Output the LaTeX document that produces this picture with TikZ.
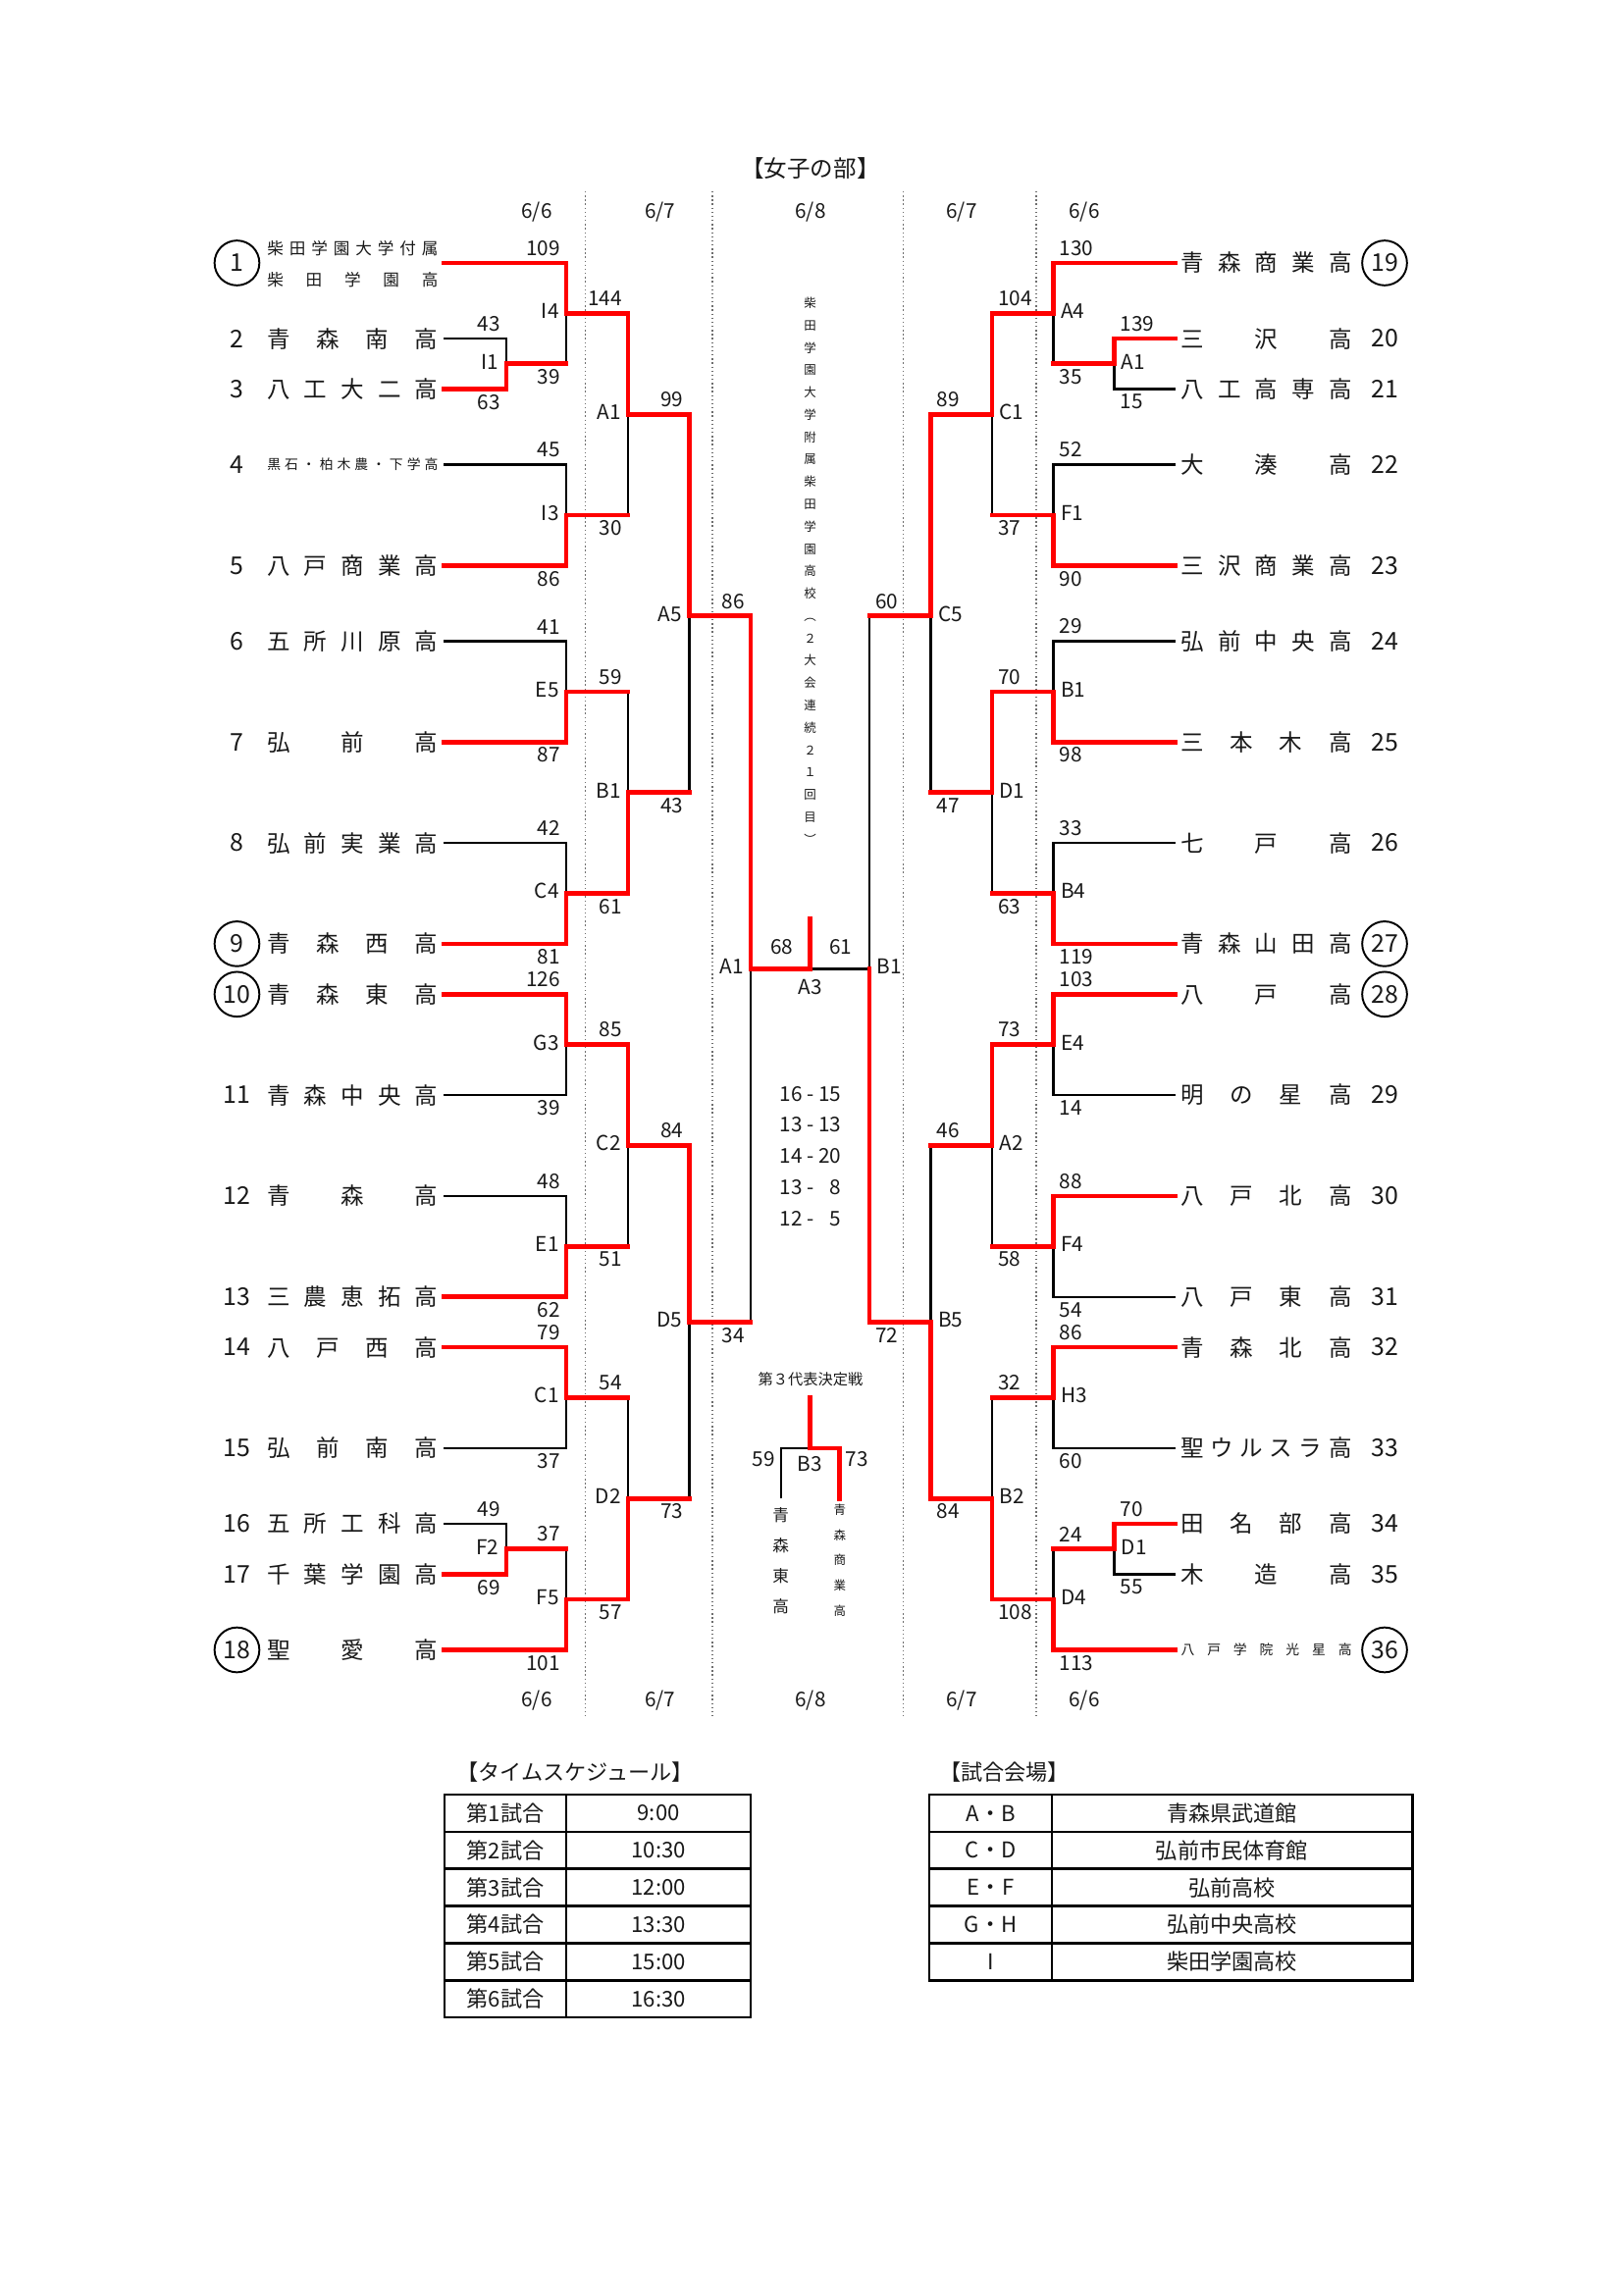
\documentclass[tikz,border=0pt]{standalone}
\usepackage{fontspec}
\setmainfont{Noto Sans CJK JP}
\definecolor{hit}{RGB}{255,0,0}
\definecolor{ink}{RGB}{25,25,25}
\definecolor{rul}{RGB}{110,110,110}
\newcommand{\spreadname}[2][2.21cm]{\makebox[#1][s]{\spaceskip=0pt plus 1fil\relax #2}}

\begin{document}
\begin{tikzpicture}[
  x=1cm, y=-0.6526cm, ink,
  every node/.style={inner sep=0pt},
  loss/.style={line width=0.8pt, black},
  wonl/.style={line width=1.7pt, hit, line cap=rect},
  guide/.style={rul, line width=0.5pt, densely dotted},
  tm/.style={font=\fontsize{8.5}{10}\selectfont},
  tmtwo/.style={font=\fontsize{6}{7}\selectfont},
  tmsmall/.style={font=\fontsize{5}{6}\selectfont},
  num/.style={font=\fontsize{9}{10}\selectfont},
  seed/.style={num, circle, draw=black, line width=0.7pt, minimum size=0.58cm},
  pts/.style={font=\fontsize{7.5}{9}\selectfont},
  sla/.style={pts, anchor=south east, xshift=-2pt, yshift=2.5pt},
  slb/.style={pts, anchor=north east, xshift=-2pt, yshift=-1.8pt},
  sra/.style={pts, anchor=south west, xshift=2pt, yshift=2.5pt},
  srb/.style={pts, anchor=north west, xshift=2pt, yshift=-1.8pt},
  gml/.style={pts, anchor=east, xshift=-2.5pt, yshift=0.8pt},
  gmr/.style={pts, anchor=west, xshift=2.5pt, yshift=0.8pt},
  day/.style={font=\fontsize{7.5}{9}\selectfont},
  tbl/.style={line width=0.9pt, black},
  tcell/.style={font=\fontsize{8}{9}\selectfont},
]
\useasboundingbox (0,-5.214) rectangle (21,40.292);

%% ---- day columns ----
\draw[guide] (7.573,-1.42) -- (7.573,28.87);
\draw[guide] (9.218,-1.42) -- (9.218,28.87);
\draw[guide] (11.687,-1.42) -- (11.687,28.87);
\draw[guide] (13.407,-1.42) -- (13.407,28.87);

\node[font=\fontsize{8.5}{10}\selectfont] (title) at (10.487,-1.87) {【女子の部】};
\node[day] (dt1) at (6.945,-1.01) {6/6};
\node[day] (dt2) at (8.540,-1.01) {6/7};
\node[day] (dt3) at (10.487,-1.01) {6/8};
\node[day] (dt4) at (12.443,-1.01) {6/7};
\node[day] (dt5) at (14.030,-1.01) {6/6};
\node[day] (db1) at (6.945,28.5) {6/6};
\node[day] (db2) at (8.540,28.5) {6/7};
\node[day] (db3) at (10.487,28.5) {6/8};
\node[day] (db4) at (12.443,28.5) {6/7};
\node[day] (db5) at (14.030,28.5) {6/6};

%% =========================================================
%% Left half --- teams 1-18
%% =========================================================
\node[seed] (kL1) at (3.066,0) {1};
\node[tmtwo, anchor=east] (tL1a) at (5.675,-0.29) {\spreadname{柴 田 学 園 大 学 付 属}};
\node[tmtwo, anchor=east] (tL1b) at (5.675,0.33) {\spreadname{柴 田 学 園 高}};
\node[num] (kL2) at (3.066,1.5) {2};
\node[tm, anchor=east] (tL2) at (5.675,1.5) {\spreadname{青 森 南 高}};
\node[num] (kL3) at (3.066,2.5) {3};
\node[tm, anchor=east] (tL3) at (5.675,2.5) {\spreadname{八 工 大 二 高}};
\node[num] (kL4) at (3.066,4) {4};
\node[tmsmall, anchor=east] (tL4) at (5.675,4) {\spreadname{黒 石 ・ 柏 木 農 ・ 下 学 高}};
\node[num] (kL5) at (3.066,6) {5};
\node[tm, anchor=east] (tL5) at (5.675,6) {\spreadname{八 戸 商 業 高}};
\node[num] (kL6) at (3.066,7.5) {6};
\node[tm, anchor=east] (tL6) at (5.675,7.5) {\spreadname{五 所 川 原 高}};
\node[num] (kL7) at (3.066,9.5) {7};
\node[tm, anchor=east] (tL7) at (5.675,9.5) {\spreadname{弘 前 高}};
\node[num] (kL8) at (3.066,11.5) {8};
\node[tm, anchor=east] (tL8) at (5.675,11.5) {\spreadname{弘 前 実 業 高}};
\node[seed] (kL9) at (3.066,13.5) {9};
\node[tm, anchor=east] (tL9) at (5.675,13.5) {\spreadname{青 森 西 高}};
\node[seed] (kL10) at (3.066,14.5) {10};
\node[tm, anchor=east] (tL10) at (5.675,14.5) {\spreadname{青 森 東 高}};
\node[num] (kL11) at (3.066,16.5) {11};
\node[tm, anchor=east] (tL11) at (5.675,16.5) {\spreadname{青 森 中 央 高}};
\node[num] (kL12) at (3.066,18.5) {12};
\node[tm, anchor=east] (tL12) at (5.675,18.5) {\spreadname{青 森 高}};
\node[num] (kL13) at (3.066,20.5) {13};
\node[tm, anchor=east] (tL13) at (5.675,20.5) {\spreadname{三 農 恵 拓 高}};
\node[num] (kL14) at (3.066,21.5) {14};
\node[tm, anchor=east] (tL14) at (5.675,21.5) {\spreadname{八 戸 西 高}};
\node[num] (kL15) at (3.066,23.5) {15};
\node[tm, anchor=east] (tL15) at (5.675,23.5) {\spreadname{弘 前 南 高}};
\node[num] (kL16) at (3.066,25) {16};
\node[tm, anchor=east] (tL16) at (5.675,25) {\spreadname{五 所 工 科 高}};
\node[num] (kL17) at (3.066,26) {17};
\node[tm, anchor=east] (tL17) at (5.675,26) {\spreadname{千 葉 学 園 高}};
\node[seed] (kL18) at (3.066,27.5) {18};
\node[tm, anchor=east] (tL18) at (5.675,27.5) {\spreadname{聖 愛 高}};

%% =========================================================
%% Right half --- teams 19-36
%% =========================================================
\node[tm, anchor=west] (tR19) at (15.274,0) {\spreadname{青 森 商 業 高}};
\node[seed] (kR19) at (17.915,0) {19};
\node[tm, anchor=west] (tR20) at (15.274,1.5) {\spreadname{三 沢 高}};
\node[num] (kR20) at (17.915,1.5) {20};
\node[tm, anchor=west] (tR21) at (15.274,2.5) {\spreadname{八 工 高 専 高}};
\node[num] (kR21) at (17.915,2.5) {21};
\node[tm, anchor=west] (tR22) at (15.274,4) {\spreadname{大 湊 高}};
\node[num] (kR22) at (17.915,4) {22};
\node[tm, anchor=west] (tR23) at (15.274,6) {\spreadname{三 沢 商 業 高}};
\node[num] (kR23) at (17.915,6) {23};
\node[tm, anchor=west] (tR24) at (15.274,7.5) {\spreadname{弘 前 中 央 高}};
\node[num] (kR24) at (17.915,7.5) {24};
\node[tm, anchor=west] (tR25) at (15.274,9.5) {\spreadname{三 本 木 高}};
\node[num] (kR25) at (17.915,9.5) {25};
\node[tm, anchor=west] (tR26) at (15.274,11.5) {\spreadname{七 戸 高}};
\node[num] (kR26) at (17.915,11.5) {26};
\node[tm, anchor=west] (tR27) at (15.274,13.5) {\spreadname{青 森 山 田 高}};
\node[seed] (kR27) at (17.915,13.5) {27};
\node[tm, anchor=west] (tR28) at (15.274,14.5) {\spreadname{八 戸 高}};
\node[seed] (kR28) at (17.915,14.5) {28};
\node[tm, anchor=west] (tR29) at (15.274,16.5) {\spreadname{明 の 星 高}};
\node[num] (kR29) at (17.915,16.5) {29};
\node[tm, anchor=west] (tR30) at (15.274,18.5) {\spreadname{八 戸 北 高}};
\node[num] (kR30) at (17.915,18.5) {30};
\node[tm, anchor=west] (tR31) at (15.274,20.5) {\spreadname{八 戸 東 高}};
\node[num] (kR31) at (17.915,20.5) {31};
\node[tm, anchor=west] (tR32) at (15.274,21.5) {\spreadname{青 森 北 高}};
\node[num] (kR32) at (17.915,21.5) {32};
\node[tm, anchor=west] (tR33) at (15.274,23.5) {\spreadname{聖 ウ ル ス ラ 高}};
\node[num] (kR33) at (17.915,23.5) {33};
\node[tm, anchor=west] (tR34) at (15.274,25) {\spreadname{田 名 部 高}};
\node[num] (kR34) at (17.915,25) {34};
\node[tm, anchor=west] (tR35) at (15.274,26) {\spreadname{木 造 高}};
\node[num] (kR35) at (17.915,26) {35};
\node[tmsmall, anchor=west] (tR36) at (15.274,27.5) {\spreadname{八 戸 学 院 光 星 高}};
\node[seed] (kR36) at (17.915,27.5) {36};

%% ---- line ends and game points ----
\coordinate (L1) at (5.739,0);    \coordinate (L2) at (5.739,1.5);  \coordinate (L3) at (5.739,2.5);
\coordinate (L4) at (5.739,4);    \coordinate (L5) at (5.739,6);    \coordinate (L6) at (5.739,7.5);
\coordinate (L7) at (5.739,9.5);  \coordinate (L8) at (5.739,11.5); \coordinate (L9) at (5.739,13.5);
\coordinate (L10) at (5.739,14.5); \coordinate (L11) at (5.739,16.5); \coordinate (L12) at (5.739,18.5);
\coordinate (L13) at (5.739,20.5); \coordinate (L14) at (5.739,21.5); \coordinate (L15) at (5.739,23.5);
\coordinate (L16) at (5.739,25);   \coordinate (L17) at (5.739,26);   \coordinate (L18) at (5.739,27.5);
\coordinate (R19) at (15.204,0);    \coordinate (R20) at (15.204,1.5);  \coordinate (R21) at (15.204,2.5);
\coordinate (R22) at (15.204,4);    \coordinate (R23) at (15.204,6);    \coordinate (R24) at (15.204,7.5);
\coordinate (R25) at (15.204,9.5);  \coordinate (R26) at (15.204,11.5); \coordinate (R27) at (15.204,13.5);
\coordinate (R28) at (15.204,14.5); \coordinate (R29) at (15.204,16.5); \coordinate (R30) at (15.204,18.5);
\coordinate (R31) at (15.204,20.5); \coordinate (R32) at (15.204,21.5); \coordinate (R33) at (15.204,23.5);
\coordinate (R34) at (15.204,25);   \coordinate (R35) at (15.204,26);   \coordinate (R36) at (15.204,27.5);

\coordinate (lI1) at (6.551,2);   \coordinate (lF2) at (6.551,25.5);
\coordinate (lI4) at (7.326,1);   \coordinate (lI3) at (7.326,5);   \coordinate (lE5) at (7.326,8.5);
\coordinate (lC4) at (7.326,12.5); \coordinate (lG3) at (7.326,15.5); \coordinate (lE1) at (7.326,19.5);
\coordinate (lC1) at (7.326,22.5); \coordinate (lF5) at (7.326,26.5);
\coordinate (lA1) at (8.126,3);   \coordinate (lB1) at (8.126,10.5);
\coordinate (lC2) at (8.126,17.5); \coordinate (lD2) at (8.126,24.5);
\coordinate (lA5) at (8.919,7);   \coordinate (lD5) at (8.919,21);
\coordinate (lSF) at (9.713,14);
\coordinate (fin) at (10.481,14); \coordinate (fintop) at (10.481,13);
\coordinate (rSF) at (11.249,14);
\coordinate (rC5) at (12.043,7);  \coordinate (rB5) at (12.043,21);
\coordinate (rC1) at (12.836,3);  \coordinate (rD1) at (12.836,10.5);
\coordinate (rA2) at (12.836,17.5); \coordinate (rB2) at (12.836,24.5);
\coordinate (rA4) at (13.630,1);  \coordinate (rF1) at (13.630,5);   \coordinate (rB1) at (13.630,8.5);
\coordinate (rB4) at (13.630,12.5); \coordinate (rE4) at (13.630,15.5); \coordinate (rF4) at (13.630,19.5);
\coordinate (rH3) at (13.630,22.5); \coordinate (rD4) at (13.630,26.5);
\coordinate (rA1) at (14.417,2);  \coordinate (rD1x) at (14.417,25.5);
\coordinate (b3top) at (10.481,22.5); \coordinate (b3) at (10.481,23.5);
\coordinate (b3L) at (10.103,24.5);   \coordinate (b3R) at (10.865,24.5);

%% ---- all games, thin ----
\draw[loss] (L2) -| (lI1) |- (L3);
\draw[loss] (L1) -| (lI4) |- (lI1);
\draw[loss] (L4) -| (lI3) |- (L5);
\draw[loss] (lI4) -| (lA1) |- (lI3);
\draw[loss] (L6) -| (lE5) |- (L7);
\draw[loss] (L8) -| (lC4) |- (L9);
\draw[loss] (lE5) -| (lB1) |- (lC4);
\draw[loss] (lA1) -| (lA5) |- (lB1);
\draw[loss] (L10) -| (lG3) |- (L11);
\draw[loss] (L12) -| (lE1) |- (L13);
\draw[loss] (lG3) -| (lC2) |- (lE1);
\draw[loss] (L14) -| (lC1) |- (L15);
\draw[loss] (L16) -| (lF2) |- (L17);
\draw[loss] (lF2) -| (lF5) |- (L18);
\draw[loss] (lC1) -| (lD2) |- (lF5);
\draw[loss] (lC2) -| (lD5) |- (lD2);
\draw[loss] (lA5) -| (lSF) |- (lD5);
\draw[loss] (lSF) -- (rSF);
\draw[loss] (R20) -| (rA1) |- (R21);
\draw[loss] (R19) -| (rA4) |- (rA1);
\draw[loss] (R22) -| (rF1) |- (R23);
\draw[loss] (rA4) -| (rC1) |- (rF1);
\draw[loss] (R24) -| (rB1) |- (R25);
\draw[loss] (R26) -| (rB4) |- (R27);
\draw[loss] (rB1) -| (rD1) |- (rB4);
\draw[loss] (rC1) -| (rC5) |- (rD1);
\draw[loss] (R28) -| (rE4) |- (R29);
\draw[loss] (R30) -| (rF4) |- (R31);
\draw[loss] (rE4) -| (rA2) |- (rF4);
\draw[loss] (R32) -| (rH3) |- (R33);
\draw[loss] (R34) -| (rD1x) |- (R35);
\draw[loss] (rD1x) -| (rD4) |- (R36);
\draw[loss] (rH3) -| (rB2) |- (rD4);
\draw[loss] (rA2) -| (rB5) |- (rB2);
\draw[loss] (rC5) -| (rSF) |- (rB5);
\draw[loss] (b3L) |- (b3) -| (b3R);

%% ---- winners, red ----
\draw[wonl] (L1) -| (lI4) -| (lA1) -| (lA5) -| (lSF) -- (fin) -- (fintop);
\draw[wonl] (L3) -| (lI1) -- (lI1 -| lI4);
\draw[wonl] (L5) -| (lI3) -- (lI3 -| lA1);
\draw[wonl] (L7) -| (lE5) -- (lE5 -| lB1);
\draw[wonl] (L9) -| (lC4) -| (lB1) -- (lB1 -| lA5);
\draw[wonl] (L10) -| (lG3) -| (lC2) -| (lD5) -- (lD5 -| lSF);
\draw[wonl] (L13) -| (lE1) -- (lE1 -| lC2);
\draw[wonl] (L14) -| (lC1) -- (lC1 -| lD2);
\draw[wonl] (L17) -| (lF2) -- (lF2 -| lF5);
\draw[wonl] (L18) -| (lF5) -| (lD2) -- (lD2 -| lD5);
\draw[wonl] (R19) -| (rA4) -| (rC1) -| (rC5) -- (rC5 -| rSF);
\draw[wonl] (R20) -| (rA1) -- (rA1 -| rA4);
\draw[wonl] (R23) -| (rF1) -- (rF1 -| rC1);
\draw[wonl] (R25) -| (rB1) -| (rD1) -- (rD1 -| rC5);
\draw[wonl] (R27) -| (rB4) -- (rB4 -| rD1);
\draw[wonl] (R28) -| (rE4) -| (rA2) -- (rA2 -| rB5);
\draw[wonl] (R30) -| (rF4) -- (rF4 -| rA2);
\draw[wonl] (R32) -| (rH3) -- (rH3 -| rB2);
\draw[wonl] (R34) -| (rD1x) -- (rD1x -| rD4);
\draw[wonl] (R36) -| (rD4) -| (rB2) -| (rB5) -| (rSF);
\draw[wonl] (b3top) -- (b3) -| (b3R);

%% ---- points, left ----
\node[sla] (plI1a) at (L2 -| lI1) {43};   \node[slb] (plI1b) at (L3 -| lI1) {63};
\node[sla] (plI4a) at (L1 -| lI4) {109};  \node[slb] (plI4b) at (lI1 -| lI4) {39};
\node[sla] (plI3a) at (L4 -| lI3) {45};   \node[slb] (plI3b) at (L5 -| lI3) {86};
\node[sla] (plA1a) at (lI4 -| lA1) {144}; \node[slb] (plA1b) at (lI3 -| lA1) {30};
\node[sla] (plE5a) at (L6 -| lE5) {41};   \node[slb] (plE5b) at (L7 -| lE5) {87};
\node[sla] (plC4a) at (L8 -| lC4) {42};   \node[slb] (plC4b) at (L9 -| lC4) {81};
\node[sla] (plB1a) at (lE5 -| lB1) {59};  \node[slb] (plB1b) at (lC4 -| lB1) {61};
\node[sla] (plA5a) at (lA1 -| lA5) {99};  \node[slb] (plA5b) at (lB1 -| lA5) {43};
\node[sla] (plG3a) at (L10 -| lG3) {126}; \node[slb] (plG3b) at (L11 -| lG3) {39};
\node[sla] (plE1a) at (L12 -| lE1) {48};  \node[slb] (plE1b) at (L13 -| lE1) {62};
\node[sla] (plC2a) at (lG3 -| lC2) {85};  \node[slb] (plC2b) at (lE1 -| lC2) {51};
\node[sla] (plC1a) at (L14 -| lC1) {79};  \node[slb] (plC1b) at (L15 -| lC1) {37};
\node[sla] (plF2a) at (L16 -| lF2) {49};  \node[slb] (plF2b) at (L17 -| lF2) {69};
\node[sla] (plF5a) at (lF2 -| lF5) {37};  \node[slb] (plF5b) at (L18 -| lF5) {101};
\node[sla] (plD2a) at (lC1 -| lD2) {54};  \node[slb] (plD2b) at (lF5 -| lD2) {57};
\node[sla] (plD5a) at (lC2 -| lD5) {84};  \node[slb] (plD5b) at (lD2 -| lD5) {73};
\node[sla] (plSFa) at (lA5 -| lSF) {86};  \node[slb] (plSFb) at (lD5 -| lSF) {34};

%% ---- points, right ----
\node[sra] (prA1a) at (R20 -| rA1) {139};  \node[srb] (prA1b) at (R21 -| rA1) {15};
\node[sra] (prA4a) at (R19 -| rA4) {130};  \node[srb] (prA4b) at (rA1 -| rA4) {35};
\node[sra] (prF1a) at (R22 -| rF1) {52};   \node[srb] (prF1b) at (R23 -| rF1) {90};
\node[sra] (prC1a) at (rA4 -| rC1) {104};  \node[srb] (prC1b) at (rF1 -| rC1) {37};
\node[sra] (prB1a) at (R24 -| rB1) {29};   \node[srb] (prB1b) at (R25 -| rB1) {98};
\node[sra] (prB4a) at (R26 -| rB4) {33};   \node[srb] (prB4b) at (R27 -| rB4) {119};
\node[sra] (prD1a) at (rB1 -| rD1) {70};   \node[srb] (prD1b) at (rB4 -| rD1) {63};
\node[sra] (prC5a) at (rC1 -| rC5) {89};   \node[srb] (prC5b) at (rD1 -| rC5) {47};
\node[sra] (prE4a) at (R28 -| rE4) {103};  \node[srb] (prE4b) at (R29 -| rE4) {14};
\node[sra] (prF4a) at (R30 -| rF4) {88};   \node[srb] (prF4b) at (R31 -| rF4) {54};
\node[sra] (prA2a) at (rE4 -| rA2) {73};   \node[srb] (prA2b) at (rF4 -| rA2) {58};
\node[sra] (prH3a) at (R32 -| rH3) {86};   \node[srb] (prH3b) at (R33 -| rH3) {60};
\node[sra] (prD1xa) at (R34 -| rD1x) {70}; \node[srb] (prD1xb) at (R35 -| rD1x) {55};
\node[sra] (prD4a) at (rD1x -| rD4) {24};  \node[srb] (prD4b) at (R36 -| rD4) {113};
\node[sra] (prB2a) at (rH3 -| rB2) {32};   \node[srb] (prB2b) at (rD4 -| rB2) {108};
\node[sra] (prB5a) at (rA2 -| rB5) {46};   \node[srb] (prB5b) at (rB2 -| rB5) {84};
\node[sra] (prSFa) at (rC5 -| rSF) {60};   \node[srb] (prSFb) at (rB5 -| rSF) {72};

%% ---- game codes ----
\node[gml] (glI1) at (lI1) {I1};  \node[gml] (glF2) at (lF2) {F2};
\node[gml] (glI4) at (lI4) {I4};  \node[gml] (glI3) at (lI3) {I3};
\node[gml] (glE5) at (lE5) {E5};  \node[gml] (glC4) at (lC4) {C4};
\node[gml] (glG3) at (lG3) {G3};  \node[gml] (glE1) at (lE1) {E1};
\node[gml] (glC1) at (lC1) {C1};  \node[gml] (glF5) at (lF5) {F5};
\node[gml] (glA1) at (lA1) {A1};  \node[gml] (glB1) at (lB1) {B1};
\node[gml] (glC2) at (lC2) {C2};  \node[gml] (glD2) at (lD2) {D2};
\node[gml] (glA5) at (lA5) {A5};  \node[gml] (glD5) at (lD5) {D5};
\node[gml] (glSF) at (lSF) {A1};
\node[gmr] (grA1) at (rA1) {A1};  \node[gmr] (grD1x) at (rD1x) {D1};
\node[gmr] (grA4) at (rA4) {A4};  \node[gmr] (grF1) at (rF1) {F1};
\node[gmr] (grB1) at (rB1) {B1};  \node[gmr] (grB4) at (rB4) {B4};
\node[gmr] (grE4) at (rE4) {E4};  \node[gmr] (grF4) at (rF4) {F4};
\node[gmr] (grH3) at (rH3) {H3};  \node[gmr] (grD4) at (rD4) {D4};
\node[gmr] (grC1) at (rC1) {C1};  \node[gmr] (grD1) at (rD1) {D1};
\node[gmr] (grA2) at (rA2) {A2};  \node[gmr] (grB2) at (rB2) {B2};
\node[gmr] (grC5) at (rC5) {C5};  \node[gmr] (grB5) at (rB5) {B5};
\node[gmr] (grSF) at (rSF) {B1};

%% ---- final ----
\node[pts, anchor=north, yshift=-3.5pt] (gfin) at (fin) {A3};
\node[pts, anchor=south, yshift=5pt] (pfina) at (10.115,14) {68};
\node[pts, anchor=south, yshift=5pt] (pfinb) at (10.877,14) {61};
\node[font=\fontsize{4.5}{8.23}\selectfont, align=center, anchor=north] (champ) at (10.481,0.67)
  {柴\\田\\学\\園\\大\\学\\附\\属\\柴\\田\\学\\園\\高\\校\\︵\\２\\大\\会\\連\\続\\２\\１\\回\\目\\︶};
\node[font=\fontsize{7.5}{11.5}\selectfont] (tally) at (10.487,17.73)
  {\begin{tabular}{@{}r@{\ -\ }r@{}}16&15\\13&13\\14&20\\13&8\\12&5\end{tabular}};

%% ---- third place ----
\node[font=\fontsize{5.5}{7}\selectfont] (thirdt) at (10.487,22.14) {第３代表決定戦};
\node[pts, anchor=north east, xshift=-2pt, yshift=-1pt] (pb3a) at (b3 -| b3L) {59};
\node[pts, anchor=north west, xshift=2pt, yshift=-1pt] (pb3b) at (b3 -| b3R) {73};
\node[pts, anchor=north, yshift=-3pt] (gb3) at (b3) {B3};
\node[font=\fontsize{6}{11.2}\selectfont, align=center, anchor=north] (nb3a) at (10.103,24.67) {青\\森\\東\\高};
\node[font=\fontsize{4.5}{9.3}\selectfont, align=center, anchor=north] (nb3b) at (10.865,24.6) {青\\森\\商\\業\\高};

%% =========================================================
%% Tables
%% =========================================================
\node[font=\fontsize{8}{9}\selectfont] (schedt) at (7.44,29.92) {【タイムスケジュール】};
\draw[tbl] (5.751,30.37) rectangle (9.713,34.79);
\draw[tbl] (7.329,30.37) -- (7.329,34.79);
\draw[tbl] (5.751,31.107) -- (9.713,31.107);
\draw[tbl] (5.751,31.843) -- (9.713,31.843);
\draw[tbl] (5.751,32.580) -- (9.713,32.580);
\draw[tbl] (5.751,33.317) -- (9.713,33.317);
\draw[tbl] (5.751,34.053) -- (9.713,34.053);
\node[tcell] (g1) at (6.54,30.738) {第1試合}; \node[tcell] (h1) at (8.521,30.738) {9:00};
\node[tcell] (g2) at (6.54,31.475) {第2試合}; \node[tcell] (h2) at (8.521,31.475) {10:30};
\node[tcell] (g3) at (6.54,32.212) {第3試合}; \node[tcell] (h3) at (8.521,32.212) {12:00};
\node[tcell] (g4) at (6.54,32.948) {第4試合}; \node[tcell] (h4) at (8.521,32.948) {13:30};
\node[tcell] (g5) at (6.54,33.685) {第5試合}; \node[tcell] (h5) at (8.521,33.685) {15:00};
\node[tcell] (g6) at (6.54,34.422) {第6試合}; \node[tcell] (h6) at (8.521,34.422) {16:30};

\node[font=\fontsize{8}{9}\selectfont] (venuet) at (12.994,29.92) {【試合会場】};
\draw[tbl] (12.026,30.37) rectangle (18.274,34.053);
\draw[tbl] (13.611,30.37) -- (13.611,34.053);
\draw[tbl] (12.026,31.107) -- (18.274,31.107);
\draw[tbl] (12.026,31.843) -- (18.274,31.843);
\draw[tbl] (12.026,32.580) -- (18.274,32.580);
\draw[tbl] (12.026,33.317) -- (18.274,33.317);
\node[tcell] (v1) at (12.819,30.738) {A・B}; \node[tcell] (w1) at (15.94,30.738) {青森県武道館};
\node[tcell] (v2) at (12.819,31.475) {C・D}; \node[tcell] (w2) at (15.94,31.475) {弘前市民体育館};
\node[tcell] (v3) at (12.819,32.212) {E・F}; \node[tcell] (w3) at (15.94,32.212) {弘前高校};
\node[tcell] (v4) at (12.819,32.948) {G・H}; \node[tcell] (w4) at (15.94,32.948) {弘前中央高校};
\node[tcell] (v5) at (12.819,33.685) {I};    \node[tcell] (w5) at (15.94,33.685) {柴田学園高校};

\end{tikzpicture}
\end{document}
